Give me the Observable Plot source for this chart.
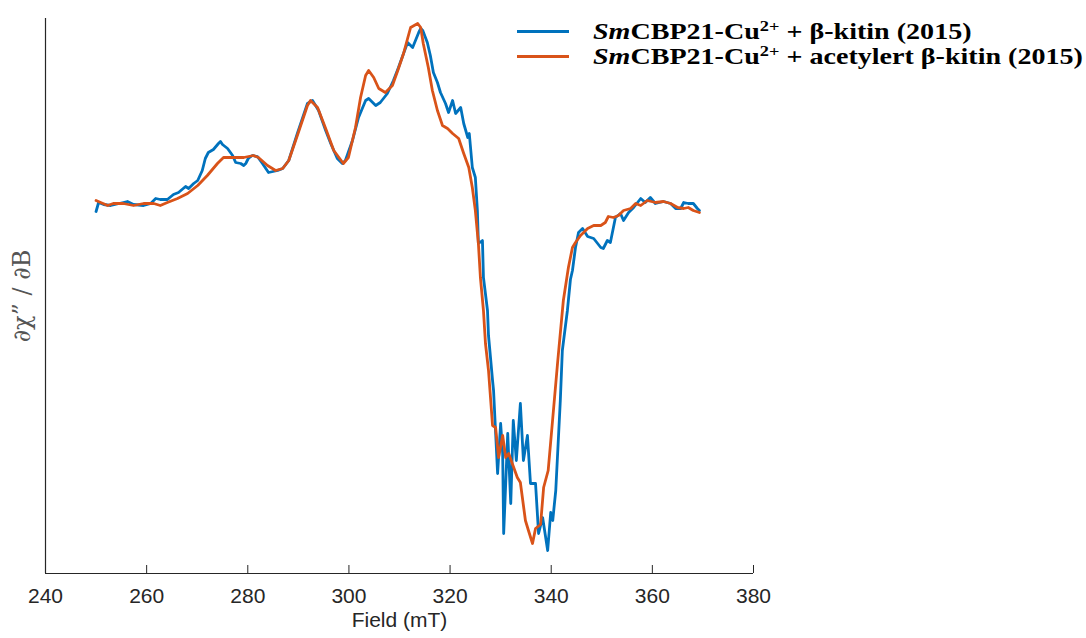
<!DOCTYPE html>
<html>
<head>
<meta charset="utf-8">
<script src="https://cdn.jsdelivr.net/npm/d3@7"></script>
<script src="https://cdn.jsdelivr.net/npm/@observablehq/plot@0.6"></script>
<style>
  body { margin: 0; background: #fff; }
  #wrap { position: relative; width: 1086px; height: 638px; }
  #legend { position: absolute; left: 517px; top: 19px; font-family: "Liberation Serif", "Times New Roman", serif; font-weight: bold; font-size: 23px; color: #000; }
  .row { display: flex; align-items: center; height: 25px; white-space: nowrap; }
  .sw { width: 52px; height: 3px; margin-right: 24px; flex: none; }
  .txt { display: inline-block; transform: scaleX(1.22); transform-origin: left center; }
  .row sup { font-size: 15px; line-height: 0; vertical-align: 0.55em; }
</style>
</head>
<body>
<div id="wrap"></div>
<script>
// ---- data (arbitrary intensity units) ----
const seriesNames = ["SmCBP21-Cu2+ + β-kitin (2015)", "SmCBP21-Cu2+ + acetylert β-kitin (2015)"];
const seriesColors = ["#0072BD", "#D95319"];
const xTicks = [240, 260, 280, 300, 320, 340, 360, 380];
const xLabel = "Field (mT)";
const yLabel = "∂χ” / ∂B";

const blueField = [250.0,250.5,251.5,252.9,255.4,256.2,257.4,259.4,260.8,261.8,262.7,264.1,265.3,266.3,267.7,268.3,269.3,270.1,271.0,271.6,272.2,273.2,274.2,274.6,275.0,276.0,277.0,277.6,278.6,279.2,279.6,280.1,280.9,281.9,282.9,284.1,285.9,286.9,288.1,289.8,291.8,292.8,294.0,295.4,296.4,297.7,298.7,299.3,300.7,301.9,303.3,303.9,305.3,306.2,307.6,308.8,309.8,310.8,311.6,312.6,313.8,314.2,314.6,315.5,316.1,316.7,317.5,318.1,319.1,319.7,320.5,321.1,322.1,322.7,323.5,323.8,324.4,325.0,325.4,325.6,326.4,326.6,327.4,327.6,328.4,328.6,329.4,330.0,330.4,330.6,331.4,331.6,332.0,332.5,333.1,333.9,334.5,335.3,335.9,336.9,337.5,338.3,339.3,339.9,340.3,340.9,341.8,342.2,343.2,343.8,344.2,344.8,345.4,346.2,347.2,348.4,349.8,350.3,351.1,351.7,352.7,353.7,354.3,355.3,356.3,357.7,358.6,359.6,360.6,362.2,363.6,364.6,365.6,366.2,367.1,368.1,368.9,369.3];
const blueValue = [-6,3,1,0,3,4,1,0,2,7,6,6,11,13,19,17,22,25,35,47,53,56,62,64,61,57,50,43,42,40,42,47,50,49,42,33,35,37,45,72,102,105,95,75,62,47,42,45,65,88,105,107,100,103,112,125,138,152,163,158,173,177,175,163,150,133,123,113,102,93,105,92,98,82,68,72,38,28,-5,-38,-35,-72,-105,-130,-175,-185,-268,-218,-248,-328,-228,-252,-298,-215,-255,-198,-255,-230,-278,-278,-328,-312,-345,-307,-315,-285,-195,-145,-105,-74,-65,-42,-27,-23,-31,-33,-42,-43,-35,-37,-12,-8,-15,-7,-2,7,3,8,2,4,2,-3,-3,3,2,2,-3,-5];

const orangeField = [250.0,250.9,252.3,253.4,255.4,257.4,259.4,261.4,262.7,264.1,266.1,268.1,270.1,272.0,274.0,275.2,277.2,279.2,281.1,282.1,283.9,285.5,286.9,288.1,289.8,291.8,292.4,293.8,295.4,297.0,298.9,299.9,301.3,302.3,303.3,303.9,304.9,305.9,307.2,308.6,309.8,310.8,311.6,312.2,313.6,314.2,314.7,315.7,316.5,317.5,318.5,319.5,320.5,321.7,322.7,323.7,324.4,325.0,325.6,326.0,326.6,327.0,327.6,328.4,329.0,329.6,330.4,331.0,331.6,332.3,333.3,333.9,334.9,335.5,336.3,336.9,337.9,338.5,339.4,340.3,341.3,342.4,343.4,344.2,344.8,345.8,347.2,348.4,349.8,350.7,351.3,352.3,353.3,354.3,355.7,356.7,357.7,359.0,360.6,362.2,363.6,365.0,366.2,367.1,368.1,369.3];
const orangeValue = [5,3,0,2,2,0,2,2,0,3,7,12,20,30,42,48,48,48,50,48,40,35,37,45,70,100,105,98,77,55,42,48,78,108,130,135,128,117,113,120,137,152,167,178,182,178,162,138,115,95,80,77,72,67,52,38,18,-5,-38,-72,-105,-138,-165,-220,-222,-252,-230,-252,-248,-258,-272,-277,-315,-325,-338,-323,-319,-282,-265,-213,-155,-95,-62,-42,-37,-30,-23,-20,-20,-17,-11,-12,-10,-5,-3,2,0,5,3,4,2,-2,-3,-2,-5,-7];

const yDomain = [-368, 187];

// ---- build table ----
const rows = [];
blueField.forEach((f, i) => rows.push({series: seriesNames[0], field: f, value: blueValue[i]}));
orangeField.forEach((f, i) => rows.push({series: seriesNames[1], field: f, value: orangeValue[i]}));

const axisColor = "#262626";

const chart = Plot.plot({
  width: 1086,
  height: 638,
  marginLeft: 45,
  marginRight: 333,
  marginTop: 18,
  marginBottom: 65,
  style: { fontFamily: "'Liberation Sans', Arial, sans-serif", fontSize: "21px", color: axisColor, background: "#fff" },
  x: { domain: [240, 380] },
  y: { domain: yDomain, axis: null },
  color: { domain: seriesNames, range: seriesColors },
  marks: [
    Plot.axisX(xTicks, { tickSize: -8, tickPadding: 23, label: null, stroke: axisColor, fill: axisColor, fontSize: 21 }),
    Plot.ruleX([240], { stroke: axisColor, strokeWidth: 1.2 }),
    Plot.ruleY([yDomain[0]], { stroke: axisColor, strokeWidth: 1.2 }),
    Plot.line(rows, { x: "field", y: "value", z: "series", stroke: "series", strokeWidth: 2.8, strokeLinejoin: "round" }),
    Plot.text([xLabel], { frameAnchor: "bottom", dy: 53, text: d => d, fill: axisColor, fontSize: 21 }),
    Plot.text([yLabel], { frameAnchor: "left", dx: -23, rotate: -90, textAnchor: "middle", text: d => d, fill: "#555", fontSize: 24, fontFamily: "'DejaVu Serif', 'Liberation Serif', serif" })
  ]
});

const wrap = document.getElementById("wrap");
wrap.appendChild(chart);

// legend
const legend = document.createElement("div");
legend.id = "legend";
const legendParts = [
  ["Sm", "CBP21-Cu", "2+", " + β-kitin (2015)"],
  ["Sm", "CBP21-Cu", "2+", " + acetylert β-kitin (2015)"]
];
legendParts.forEach((p, i) => {
  const row = document.createElement("div");
  row.className = "row";
  row.innerHTML = `<span class="sw" style="background:${seriesColors[i]}"></span><span class="txt"><i>${p[0]}</i>${p[1]}<sup>${p[2]}</sup>${p[3]}</span>`;
  legend.appendChild(row);
});
wrap.appendChild(legend);
</script>
</body>
</html>
